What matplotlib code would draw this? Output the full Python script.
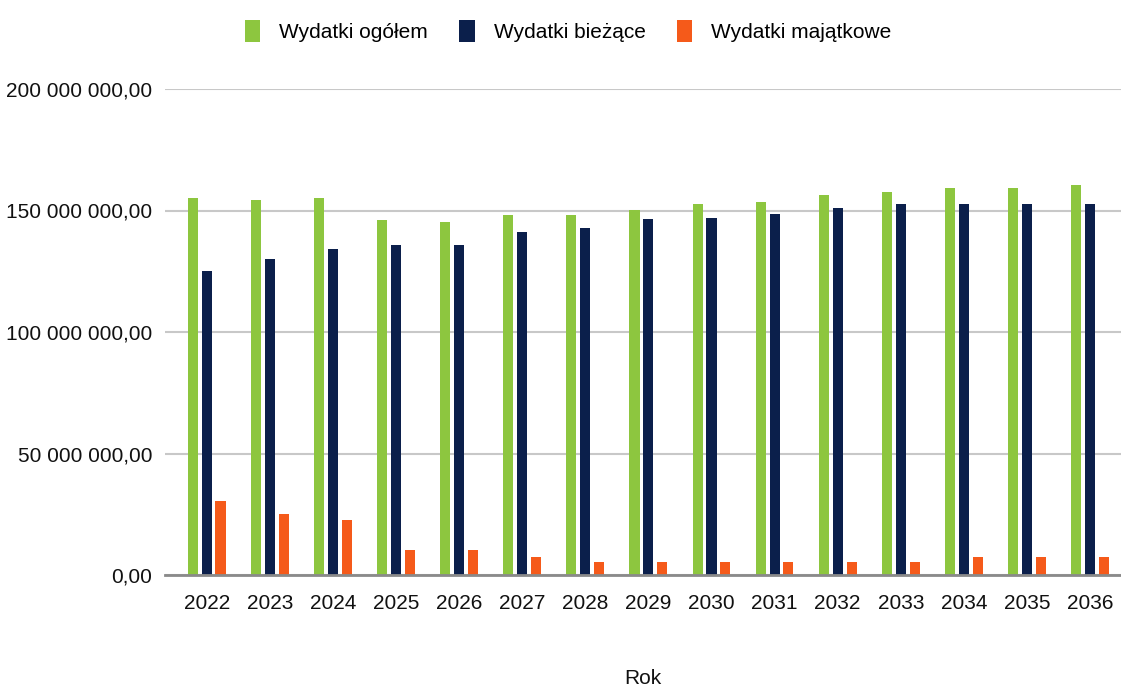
import matplotlib
matplotlib.use("Agg")
import matplotlib.pyplot as plt
from matplotlib import font_manager
from matplotlib.ticker import FuncFormatter, MultipleLocator
import numpy as np

years = ["2022", "2023", "2024", "2025", "2026", "2027", "2028", "2029",
         "2030", "2031", "2032", "2033", "2034", "2035", "2036"]
# values in mln PLN
ogolem = [155.0, 154.4, 155.0, 146.2, 145.2, 148.2, 148.3, 150.3,
          152.6, 153.5, 156.4, 157.5, 159.4, 159.4, 160.5]
biezace = [125.0, 130.0, 134.0, 136.0, 136.0, 141.2, 143.0, 146.3,
           147.1, 148.6, 151.2, 152.7, 152.7, 152.7, 152.7]
majatkowe = [30.5, 25.0, 22.5, 10.3, 10.3, 7.3, 5.5, 5.5,
             5.5, 5.5, 5.5, 5.5, 7.3, 7.3, 7.3]
ogolem = [v * 1e6 for v in ogolem]
biezace = [v * 1e6 for v in biezace]
majatkowe = [v * 1e6 for v in majatkowe]

series = [("Wydatki ogółem", ogolem, "#8dc63f"),
          ("Wydatki bieżące", biezace, "#0b1f4b"),
          ("Wydatki majątkowe", majatkowe, "#f55a1a")]

names = {f.name for f in font_manager.fontManager.ttflist}
narrow = "Liberation Sans Narrow" in names
FONT = ["Liberation Sans Narrow" if narrow else "Liberation Sans", "DejaVu Sans"]
FS = 18 if narrow else 15
plt.rcParams["font.family"] = FONT

fig = plt.figure(figsize=(11.21, 6.88), dpi=100)
ax = fig.add_axes([165 / 1121, 1 - 575 / 688, 1 - 165 / 1121, (575 - 89) / 688])

x = np.arange(len(years))
w = 0.16
step = 0.22
for i, (label, vals, color) in enumerate(series):
    ax.bar(x + (i - 1) * step, vals, width=w, color=color, label=label, zorder=3)

ax.set_xlim(-0.66, len(years) - 1 + 0.49)
ax.set_ylim(0, 200e6)
ax.yaxis.set_major_locator(MultipleLocator(50e6))


def fmt(v, pos):
    return f"{v:,.2f}".replace(",", " ").replace(".", ",")


ax.yaxis.set_major_formatter(FuncFormatter(fmt))
ax.set_xticks(x)
ax.set_xticklabels(years)
ax.tick_params(axis="both", length=0, labelsize=FS, colors="#111111")
ax.tick_params(axis="y", pad=9)
ax.tick_params(axis="x", pad=14)
ax.grid(axis="y", color="#c8c8c8", linewidth=1.5, zorder=0)
for s in ["top", "right", "left"]:
    ax.spines[s].set_visible(False)
ax.spines["bottom"].set_color("#8a8a8a")
ax.spines["bottom"].set_linewidth(2)
ax.spines["bottom"].set_zorder(4)

ax.set_xlabel("Rok", fontsize=FS, color="#111111", labelpad=40)

fig.legend(loc="center", bbox_to_anchor=(568 / 1121, 1 - 31 / 688), ncol=3,
           frameon=False, fontsize=FS, handlelength=0.75, handleheight=1.3,
           handletextpad=0.9, columnspacing=1.5)

fig.savefig("out.png", dpi=100)
